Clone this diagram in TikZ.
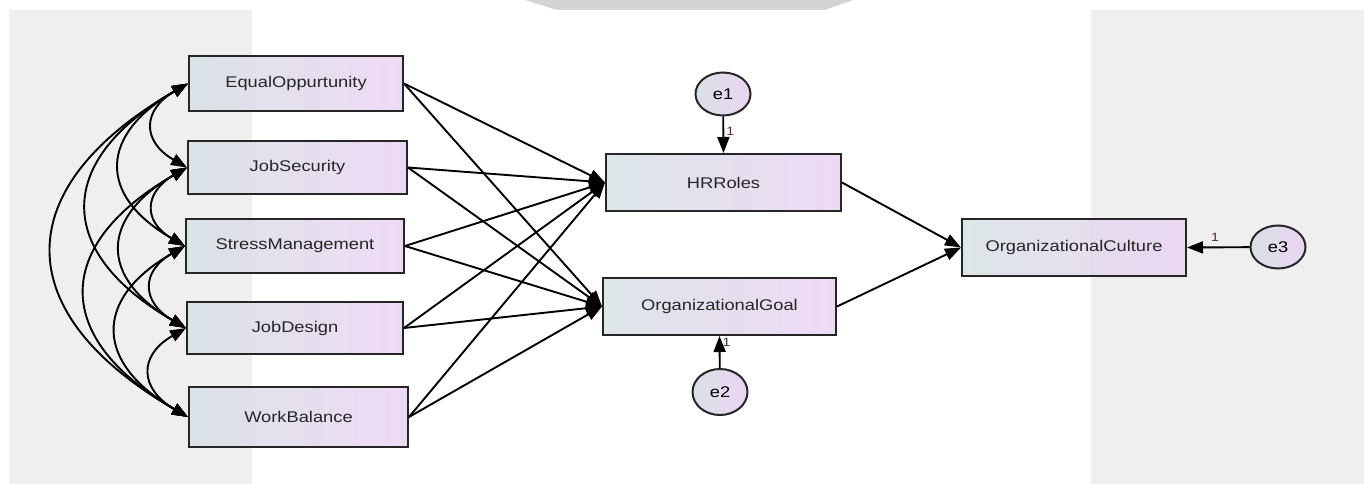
\documentclass[tikz,border=0pt]{standalone}
\usepackage{fontspec}
\setmainfont[FakeStretch=1.18]{Liberation Sans}
\usepackage{tikz}
\usetikzlibrary{arrows.meta, shapes.geometric, positioning}
\definecolor{boxleft}{HTML}{D8E2E5}
\definecolor{boxright}{HTML}{EBD4F3}
\definecolor{panelgray}{HTML}{EFEFEF}
\definecolor{onecolor}{HTML}{5A2430}
\tikzset{
	varbox/.style={rectangle, draw=black!85, line width=2pt, left color=boxleft, right color=boxright,
		fill opacity=0.88, text opacity=1, font=\fontsize{15.5}{18}\selectfont, text=black!85}
}
\tikzset{
	errnode/.style={ellipse, draw=black!85, line width=2pt, left color=boxleft, right color=boxright,
		minimum width=55pt, minimum height=43pt, inner sep=0pt, font=\fontsize{15.5}{18}\selectfont}
}
\tikzset{
	path/.style={line width=1.9pt, -{Triangle[length=16pt,width=12pt]}},
	cov/.style={line width=1.9pt, {Triangle[length=16pt,width=12pt]}-{Triangle[length=16pt,width=12pt]}, out=210, in=150, looseness=1.6},
	onelabel/.style={font=\fontsize{12}{13}\selectfont, text=onecolor, inner sep=2pt}
}

\begin{document}
\begin{tikzpicture}[x=1pt, y=-1pt]
      \useasboundingbox (0,0) rectangle (1368,484);
      % background panels
      \fill[panelgray] (9,10) rectangle (252,484);
      \fill[panelgray] (1091,10) rectangle (1364,484);
      \fill[black!17] (525,0) -- (853,0) -- (825,10) -- (557,10) -- cycle;
      % observed variables
      \node[varbox, minimum width=214pt, minimum height=55pt] (eo) at (296,83.5) {EqualOppurtunity};
      \node[varbox, minimum width=219pt, minimum height=53pt] (js) at (297.5,167.5) {JobSecurity};
      \node[varbox, minimum width=218pt, minimum height=54pt] (sm) at (295,246) {StressManagement};
      \node[varbox, minimum width=216pt, minimum height=52pt] (jd) at (295,328) {JobDesign};
      \node[varbox, minimum width=219pt, minimum height=60pt] (wb) at (298.5,417) {WorkBalance};
      \node[varbox, minimum width=235pt, minimum height=57pt] (hr) at (723.5,182.5) {HRRoles};
      \node[varbox, minimum width=233pt, minimum height=57pt] (og) at (719.5,306.5) {OrganizationalGoal};
      \node[varbox, minimum width=224pt, minimum height=57pt] (oc) at (1074,247.5) {OrganizationalCulture};
      % error terms
      \node[errnode] (e1) at (723,94) {e1};
      \node[errnode, minimum height=46pt] (e2) at (720,392) {e2};
      \node[errnode] (e3) at (1278,247) {e3};
      % covariances
      \draw[cov] (eo.west) to (js.west);
      \draw[cov] (eo.west) to (sm.west);
      \draw[cov] (eo.west) to (jd.west);
      \draw[cov] (eo.west) to (wb.west);
      \draw[cov] (js.west) to (sm.west);
      \draw[cov] (js.west) to (jd.west);
      \draw[cov] (js.west) to (wb.west);
      \draw[cov] (sm.west) to (jd.west);
      \draw[cov] (sm.west) to (wb.west);
      \draw[cov] (jd.west) to (wb.west);
      % regressions
      \draw[path] (eo.east) -- (hr.west);
      \draw[path] (eo.east) -- (og.west);
      \draw[path] (js.east) -- (hr.west);
      \draw[path] (js.east) -- (og.west);
      \draw[path] (sm.east) -- (hr.west);
      \draw[path] (sm.east) -- (og.west);
      \draw[path] (jd.east) -- (hr.west);
      \draw[path] (jd.east) -- (og.west);
      \draw[path] (wb.east) -- (hr.west);
      \draw[path] (wb.east) -- (og.west);
      \draw[path] (hr.east) -- (oc.west);
      \draw[path] (og.east) -- (oc.west);
      % error paths
      \draw[path] (e1) -- node[right, onelabel, pos=0.4] {1} (hr.north);
      \draw[path] (e2) -- node[right, onelabel, pos=0.8] {1} (og.south);
      \draw[path] (e3) -- node[above=3pt, onelabel, pos=0.55] {1} (oc.east);
    \end{tikzpicture}
\end{document}
